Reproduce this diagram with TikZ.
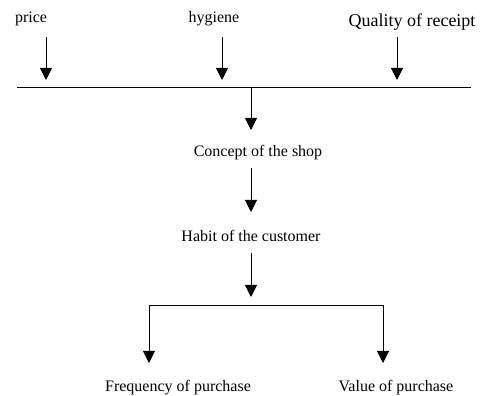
\documentclass[tikz,border=0pt]{standalone}
\usepackage{fontspec}
\setmainfont{Liberation Serif}
\usetikzlibrary{arrows.meta}
\begin{document}
\begin{tikzpicture}[>={Triangle[length=12bp,width=12bp]},line join=bevel,line width=1bp,
  every node/.style={inner sep=0pt,font=\fontsize{16bp}{19bp}\selectfont}]
\useasboundingbox (0bp,0bp) rectangle (480bp,396bp);
%%
\node (price) at (31bp,377bp) [draw,draw=none] {price};
  \node (hygiene) at (214bp,377bp) [draw,draw=none] {hygiene};
  \node (quality) at (412bp,374bp) [draw,draw=none,font=\fontsize{18bp}{21bp}\selectfont] {Quality of receipt};
  \node (concept) at (258bp,243bp) [draw,draw=none] {Concept of the shop};
  \node (habit) at (251bp,160bp) [draw,draw=none] {Habit of the customer};
  \node (frequency) at (178bp,8bp) [draw,draw=none] {Frequency of purchase};
  \node (value) at (396bp,8bp) [draw,draw=none] {Value of purchase};
  \coordinate (price-a) at (46bp,359bp);
  \coordinate (price-b) at (46bp,316bp);
  \coordinate (hygiene-a) at (222bp,359bp);
  \coordinate (hygiene-b) at (222bp,316bp);
  \coordinate (quality-a) at (397bp,359bp);
  \coordinate (quality-b) at (397bp,316bp);
  \coordinate (bar-l) at (17bp,308bp);
  \coordinate (bar-c) at (251bp,308bp);
  \coordinate (bar-r) at (471bp,308bp);
  \coordinate (concept-in) at (251bp,266bp);
  \coordinate (concept-out) at (251bp,228bp);
  \coordinate (habit-in) at (251bp,184bp);
  \coordinate (habit-out) at (251bp,143bp);
  \coordinate (fork-c) at (251bp,99bp);
  \coordinate (fork-l) at (149bp,90bp);
  \coordinate (fork-r) at (383bp,90bp);
  \coordinate (frequency-in) at (149bp,33bp);
  \coordinate (value-in) at (383bp,33bp);
  \draw [black,->] (price-a) -- (price-b);
  \draw [black,->] (hygiene-a) -- (hygiene-b);
  \draw [black,->] (quality-a) -- (quality-b);
  \draw [black] (bar-l) -- (bar-r);
  \draw [black,->] (bar-c) -- (concept-in);
  \draw [black,->] (concept-out) -- (habit-in);
  \draw [black,->] (habit-out) -- (fork-c);
  \draw [black,->] (fork-c |- fork-l) -- (fork-l) -- (frequency-in);
  \draw [black,->] (fork-c |- fork-r) -- (fork-r) -- (value-in);
%
\end{tikzpicture}
\end{document}
